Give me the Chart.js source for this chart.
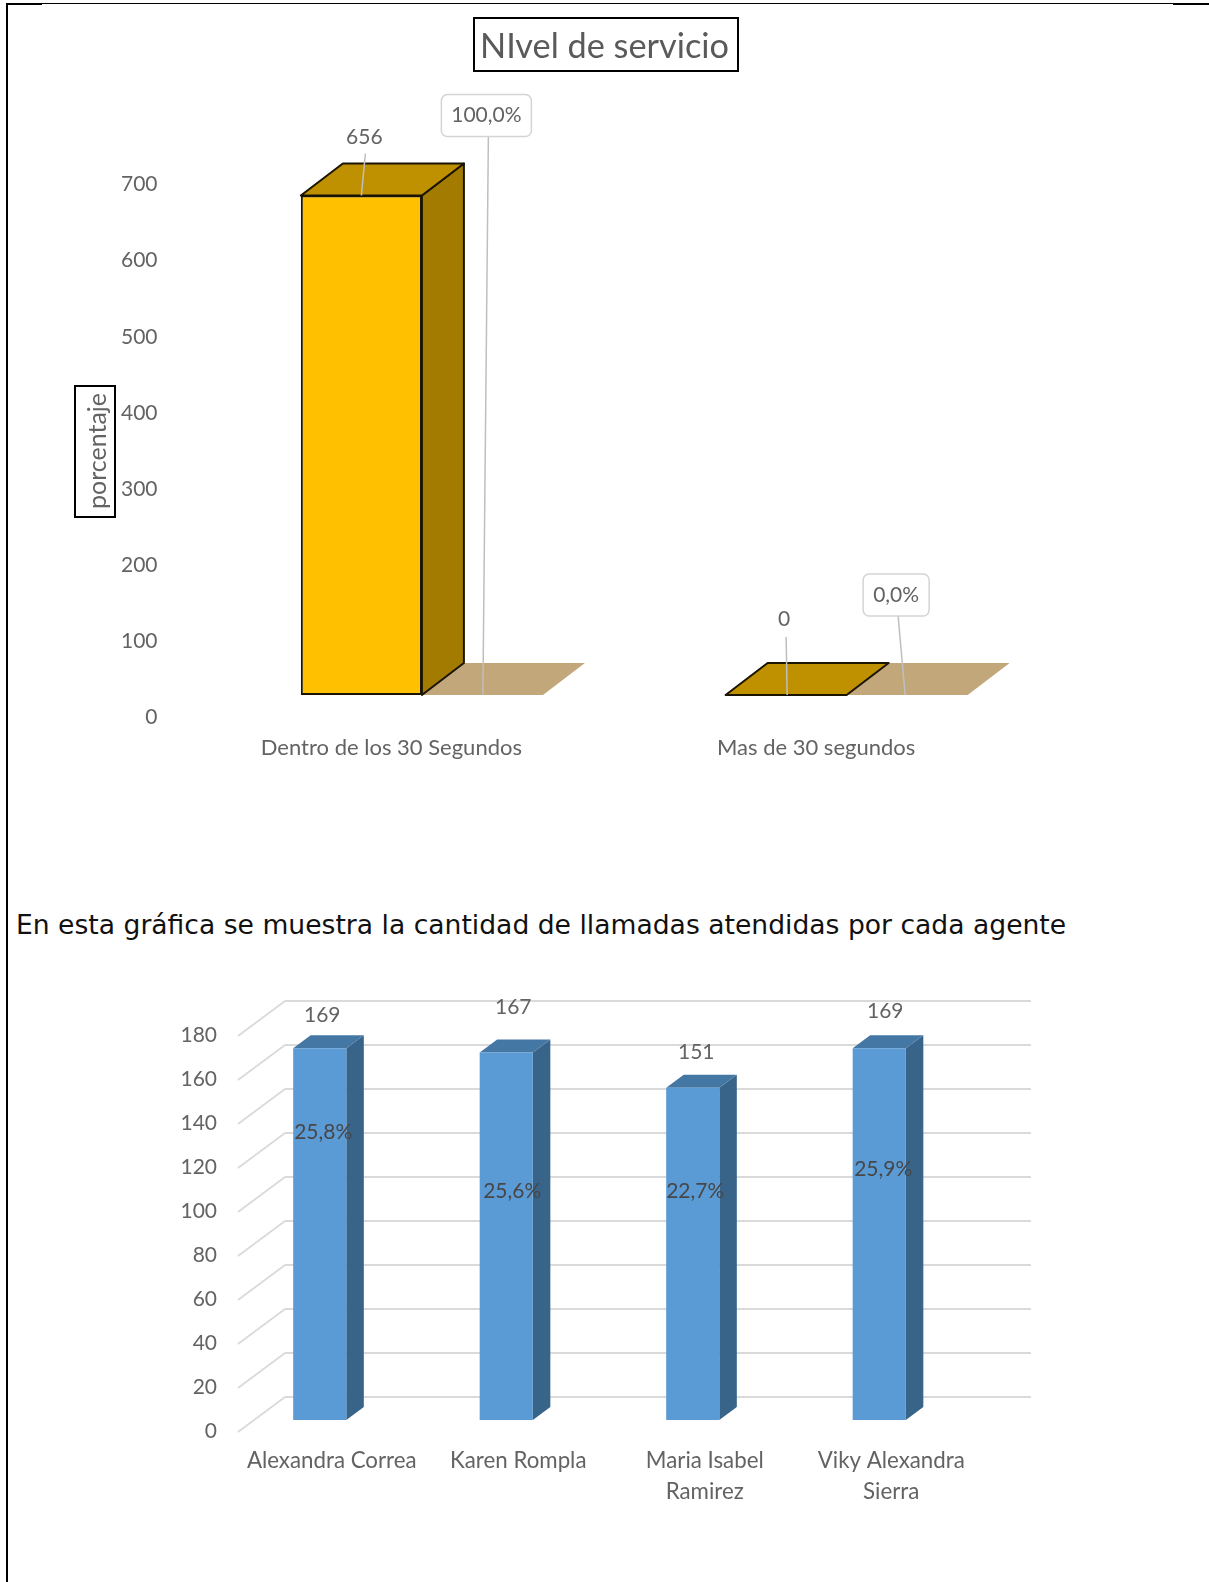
<!DOCTYPE html>
<html>
<head>
<meta charset="utf-8">
<title>Nivel de servicio</title>
<script src="https://cdn.jsdelivr.net/npm/chart.js@4"></script>
<style>
    html, body { margin: 0; padding: 0; background: #fff; overflow: hidden; }
    body { position: relative; width: 1209px; height: 1582px; overflow: hidden; }
    canvas { position: absolute; left: 0; filter: blur(0.6px); }
    #service-chart { top: 0; }
    #agents-chart { top: 960px; }
    .rule { position: absolute; background: #000; }
    #caption {
        position: absolute; left: 16px; top: 908px; margin: 0; white-space: nowrap;
        font-family: "DejaVu Sans", sans-serif; font-size: 26.6px; line-height: 34px; color: #111;
    }
</style>
</head>
<body>
<div class="rule" style="left:6px;top:3px;width:2px;height:1579px"></div>
<div class="rule" style="left:6px;top:3px;width:36px;height:2px"></div>
<div class="rule" style="left:42px;top:3px;width:1131px;height:1px"></div>
<div class="rule" style="left:1173px;top:3px;width:36px;height:2px"></div>

<canvas id="service-chart" width="1209" height="800"></canvas>
<p id="caption">En esta gráfica se muestra la cantidad de llamadas atendidas por cada agente</p>
<canvas id="agents-chart" width="1209" height="560"></canvas>

<script>
// first chart data
const serviceCategories = ['Dentro de los 30 Segundos', 'Mas de 30 segundos'];
const serviceCalls = [656, 0];
const servicePercents = ['100,0%', '0,0%'];

// second chart data
const agentCategories = ['Alexandra Correa', 'Karen Rompla', ['Maria Isabel', 'Ramirez'], ['Viky Alexandra', 'Sierra']];
const agentCalls = [169, 167, 151, 169];
const agentPercents = ['25,8%', '25,6%', '22,7%', '25,9%'];

const FONT = 'Lato';
const GREY = '#636363';
const DARK = '#474747';
Chart.defaults.font.family = FONT;
Chart.defaults.animation = false;

function polygon(ctx, points, fill, stroke, lineWidth) {
    ctx.beginPath();
    points.forEach((p, i) => i ? ctx.lineTo(p[0], p[1]) : ctx.moveTo(p[0], p[1]));
    ctx.closePath();
    ctx.fillStyle = fill;
    ctx.fill();
    if (stroke) {
        ctx.strokeStyle = stroke;
        ctx.lineWidth = lineWidth;
        ctx.lineJoin = 'round';
        ctx.stroke();
    }
}

function line(ctx, x1, y1, x2, y2, color, width) {
    ctx.beginPath();
    ctx.moveTo(x1, y1);
    ctx.lineTo(x2, y2);
    ctx.strokeStyle = color;
    ctx.lineWidth = width;
    ctx.stroke();
}

function label(ctx, text, x, y, color, size) {
    ctx.font = size + 'px ' + FONT;
    ctx.fillStyle = color;
    ctx.textAlign = 'center';
    ctx.textBaseline = 'middle';
    ctx.fillText(text, x, y);
}

// side and top faces of every bar, the front face is the normal Chart.js bar
function bars3d(look) {
    return {
        id: 'bars3d',
        beforeDatasetsDraw(chart) {
            const ctx = chart.ctx;
            const { dx, dy } = look;
            ctx.save();
            chart.getDatasetMeta(0).data.forEach(bar => {
                const left = bar.x - bar.width / 2;
                const right = bar.x + bar.width / 2;
                if (look.shadow) {
                    polygon(ctx, [[right, bar.base], [right + bar.width, bar.base],
                        [right + bar.width + dx, bar.base - dy], [right + dx, bar.base - dy]], look.shadow);
                }
                if (bar.base - bar.y > 0) {
                    polygon(ctx, [[right, bar.y], [right + dx, bar.y - dy], [right + dx, bar.base - dy], [right, bar.base]],
                        look.side, look.edge, look.edgeWidth);
                }
                polygon(ctx, [[left, bar.y], [left + dx, bar.y - dy], [right + dx, bar.y - dy], [right, bar.y]],
                    look.top, look.edge, look.edgeWidth);
            });
            ctx.restore();
        }
    };
}

// offsets from the bar centre, for the labels and their leader lines
const serviceValueSpots = [{ x: 3, above: 58, fromX: 4, fromAbove: 42, toX: 0 }, { x: -2, above: 76, fromX: 0, fromAbove: 58, toX: 1 }];
const serviceBoxSpots = [{ x: 125, above: 80, w: 90, h: 42, toX: 121.5 }, { x: 110, above: 100, w: 66, h: 42, toX: 119 }];

const serviceCallouts = {
    id: 'serviceCallouts',
    afterDatasetsDraw(chart) {
        const ctx = chart.ctx;
        ctx.save();
        chart.getDatasetMeta(0).data.forEach((bar, i) => {
            const v = serviceValueSpots[i];
            const b = serviceBoxSpots[i];
            const boxY = bar.y - b.above;
            line(ctx, bar.x + v.fromX, bar.y - v.fromAbove, bar.x + v.toX, bar.y, '#BFBFBF', 1.5);
            line(ctx, bar.x + b.x + 2, boxY + b.h / 2, bar.x + b.toX, bar.base, '#BFBFBF', 1.5);
            label(ctx, serviceCalls[i], bar.x + v.x, bar.y - v.above, GREY, 21);
            ctx.beginPath();
            ctx.roundRect(bar.x + b.x - b.w / 2, boxY - b.h / 2, b.w, b.h, 6);
            ctx.fillStyle = '#fff';
            ctx.fill();
            ctx.strokeStyle = '#D4D4D4';
            ctx.lineWidth = 1.5;
            ctx.stroke();
            label(ctx, servicePercents[i], bar.x + b.x, boxY, GREY, 21);
        });
        ctx.restore();
    }
};

// boxes round the title and the axis name
const serviceFrames = {
    id: 'serviceFrames',
    afterDraw(chart) {
        const ctx = chart.ctx;
        ctx.save();
        ctx.strokeStyle = '#000';
        ctx.lineWidth = 2;
        ctx.strokeRect(474, 18, 264, 53);
        ctx.strokeRect(75, 386, 40, 131);
        ctx.translate(98, 451);
        ctx.rotate(-Math.PI / 2);
        label(ctx, 'porcentaje', 0, 0, GREY, 25);
        ctx.restore();
    }
};

// Service level chart
new Chart(document.querySelector('#service-chart').getContext('2d'), {
    type: 'bar',
    data: {
        labels: serviceCategories,
        datasets: [{
            label: 'Nivel de servicio',
            data: serviceCalls,
            backgroundColor: '#FFC000',
            borderColor: '#1A1400',
            borderWidth: 2,
            borderSkipped: false,
            categoryPercentage: 1,
            barPercentage: 0.285
        }]
    },
    options: {
        responsive: false,
        plugins: {
            legend: { display: false },
            tooltip: { enabled: false },
            title: {
                display: true,
                text: 'NIvel de servicio',
                color: '#5A5A5A',
                font: { size: 34.3, weight: 'normal', family: FONT },
                padding: { top: 26, bottom: 94.8 }
            }
        },
        scales: {
            x: {
                grid: { display: false, drawTicks: false },
                border: { display: false },
                afterFit: s => { s.height = 105; },
                ticks: { color: GREY, font: { size: 22 }, labelOffset: 30, padding: 40, maxRotation: 0 }
            },
            y: {
                min: 0,
                max: 700,
                grid: { display: false, drawTicks: false },
                border: { display: false },
                afterFit: s => { s.width = 149; },
                // mirror because the numbers sit a bit past the axis box and would get clipped
                ticks: { stepSize: 100, color: GREY, font: { size: 21 }, labelOffset: 22.5, mirror: true, crossAlign: 'far', padding: -28 }
            },
            // empty axis on the right, only there so the title stays centred on the page
            spacer: {
                type: 'linear',
                position: 'right',
                grid: { display: false, drawTicks: false },
                border: { display: false },
                ticks: { display: false },
                afterFit: s => { s.width = 210.5; }
            }
        }
    },
    plugins: [
        bars3d({ dx: 42, dy: 32, top: '#BF9000', side: '#A37B00', edge: '#1A1400', edgeWidth: 2, shadow: '#C2A77B' }),
        serviceCallouts,
        serviceFrames
    ]
});

// back wall and side wall lines, they follow the y scale ticks
const agentWalls = {
    id: 'agentWalls',
    beforeDatasetsDraw(chart) {
        const ctx = chart.ctx;
        const area = chart.chartArea;
        const y = chart.scales.y;
        ctx.save();
        y.ticks.forEach(tick => {
            const py = y.getPixelForValue(tick.value);
            line(ctx, area.left + 11.5, py + 12, area.left + 58.5, py - 23, '#DADADA', 1.8);
            line(ctx, area.left + 58.5, py - 23, area.right + 58.5, py - 23, '#DADADA', 1.8);
        });
        ctx.restore();
    }
};

const agentValueSpots = [{ x: 2.5, above: 33 }, { x: 7, above: 45.6 }, { x: 3.5, above: 36 }, { x: 6, above: 37 }];
const agentPercentSpots = [{ x: 3.5, up: 288 }, { x: 6, up: 229 }, { x: 2.5, up: 229 }, { x: 4, up: 251 }];

const agentLabels = {
    id: 'agentLabels',
    afterDatasetsDraw(chart) {
        const ctx = chart.ctx;
        ctx.save();
        chart.getDatasetMeta(0).data.forEach((bar, i) => {
            label(ctx, agentCalls[i], bar.x + agentValueSpots[i].x, bar.y - agentValueSpots[i].above, GREY, 21);
            label(ctx, agentPercents[i], bar.x + agentPercentSpots[i].x, bar.base - agentPercentSpots[i].up, DARK, 21);
        });
        ctx.restore();
    }
};

// Calls per agent chart
new Chart(document.querySelector('#agents-chart').getContext('2d'), {
    type: 'bar',
    data: {
        labels: agentCategories,
        datasets: [{
            label: 'Llamadas atendidas',
            data: agentCalls,
            backgroundColor: '#5B9BD5',
            categoryPercentage: 1,
            barPercentage: 0.285
        }]
    },
    options: {
        responsive: false,
        layout: { padding: { left: 0, right: 236.5, top: 64, bottom: 0 } },
        plugins: {
            legend: { display: false },
            tooltip: { enabled: false }
        },
        scales: {
            x: {
                grid: { display: false, drawTicks: false },
                border: { display: false },
                afterFit: s => { s.height = 100; },
                ticks: { color: GREY, font: { size: 22.3, lineHeight: 1.36 }, labelOffset: 12, padding: 26, maxRotation: 0 }
            },
            y: {
                min: 0,
                max: 180,
                grid: { display: false, drawTicks: false },
                border: { display: false },
                afterFit: s => { s.width = 226.5; },
                ticks: { stepSize: 20, color: GREY, font: { size: 21 }, labelOffset: 11, padding: 9.5 }
            }
        }
    },
    plugins: [
        agentWalls,
        bars3d({ dx: 17.5, dy: 13, top: '#4577A5', side: '#39648A' }),
        agentLabels
    ]
});
</script>
</body>
</html>
